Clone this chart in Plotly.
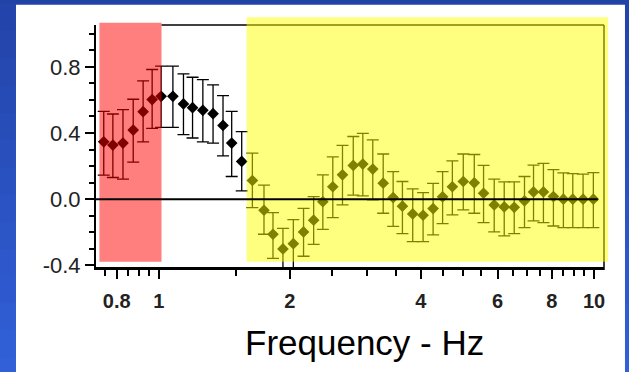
import math
import plotly.graph_objects as go

# ---------------- data ----------------
freq = [0.747, 0.784, 0.827, 0.873, 0.920, 0.965, 1.012, 1.077, 1.139, 1.195,
        1.262, 1.332, 1.404, 1.470, 1.550, 1.640, 1.744, 1.829, 1.928, 2.037,
        2.150, 2.268, 2.381, 2.510, 2.642, 2.797, 2.942, 3.101, 3.277, 3.454,
        3.628, 3.831, 4.047, 4.267, 4.487, 4.725, 5.006, 5.306, 5.573, 5.896,
        6.217, 6.554, 6.921, 7.259, 7.650, 8.065, 8.502, 8.935, 9.436, 9.963]

value = [0.347, 0.327, 0.339, 0.418, 0.529, 0.602, 0.622, 0.622, 0.576, 0.553,
         0.537, 0.517, 0.446, 0.339, 0.228, 0.113, -0.067, -0.212, -0.301, -0.269,
         -0.198, -0.127, -0.015, 0.075, 0.147, 0.204, 0.212, 0.182, 0.097, 0.010,
         -0.042, -0.089, -0.097, -0.057, 0.014, 0.075, 0.107, 0.099, 0.036, -0.035,
         -0.047, -0.049, -0.010, 0.044, 0.044, 0.016, 0.0, 0.0, 0.0, 0.0]

upper = [0.531, 0.515, 0.541, 0.604, 0.715, 0.784, 0.804, 0.804, 0.757, 0.737,
         0.723, 0.691, 0.626, 0.531, 0.408, 0.279, 0.085, -0.081, -0.176, -0.124,
         -0.055, 0.016, 0.147, 0.256, 0.325, 0.379, 0.398, 0.358, 0.273, 0.167,
         0.107, 0.062, 0.040, 0.095, 0.167, 0.232, 0.273, 0.270, 0.204, 0.121,
         0.105, 0.105, 0.137, 0.206, 0.216, 0.179, 0.159, 0.155, 0.152, 0.161]

lower = [0.145, 0.131, 0.121, 0.224, 0.347, 0.428, 0.434, 0.434, 0.390, 0.370,
         0.347, 0.339, 0.262, 0.137, 0.050, -0.051, -0.212, -0.358, -0.430, -0.420,
         -0.345, -0.273, -0.182, -0.111, -0.035, 0.024, 0.020, -0.004, -0.085, -0.164,
         -0.208, -0.257, -0.257, -0.216, -0.148, -0.095, -0.065, -0.085, -0.142, -0.198,
         -0.222, -0.208, -0.172, -0.131, -0.142, -0.162, -0.172, -0.172, -0.172, -0.172]

x_tickvals = [0.8, 1, 2, 4, 6, 8, 10]
x_ticktext = ["0.8", "1", "2", "4", "6", "8", "10"]
x_minorvals = [0.75, 0.85, 0.9, 0.95, 1.5, 2.5, 3, 3.5, 4.5, 5, 5.5,
               6.5, 7, 7.5, 8.5, 9, 9.5]
y_tickvals = [-0.4, 0.0, 0.4, 0.8]
y_ticktext = ["-0.4", "0.0", "0.4", "0.8"]

# highlighted frequency bands (Hz) and their vertical extent
red_band = [0.730, 1.014]
red_band_y = [-0.379, 1.066]
yellow_band = [1.591, 10.77]
yellow_band_y = [-0.379, 1.100]
zero_line_end = 10.2

x_range = [0.717, 10.54]
y_range = [-0.41, 1.053]

# ---------------- helpers: data -> paper coords ----------------
lx0, lx1 = math.log10(x_range[0]), math.log10(x_range[1])


def px(f):
    return (math.log10(f) - lx0) / (lx1 - lx0)


def py(v):
    return (v - y_range[0]) / (y_range[1] - y_range[0])


err_plus = [u - v for u, v in zip(upper, value)]
err_minus = [v - l for v, l in zip(value, lower)]

fig = go.Figure()
fig.add_trace(go.Scatter(
    x=freq, y=value, mode="markers",
    marker=dict(symbol="diamond", size=9, color="black"),
    error_y=dict(type="data", symmetric=False, array=err_plus,
                 arrayminus=err_minus, color="black", thickness=1.3, width=6),
    showlegend=False, hoverinfo="x+y",
))

shapes = []
# background blue gradient
top_c = (0x22, 0x42, 0xa6)
bot_c = (0x32, 0x62, 0xdc)
N = 16
for i in range(N):
    t = i / (N - 1)
    c = tuple(round(top_c[k] + (bot_c[k] - top_c[k]) * t) for k in range(3))
    y_top = 1.2 - (i / N) * 1.8
    y_bot = 1.2 - ((i + 1) / N) * 1.8
    shapes.append(dict(type="rect", xref="paper", yref="paper",
                       x0=-0.3, x1=1.1, y0=y_bot - 0.01, y1=y_top,
                       fillcolor="rgb(%d,%d,%d)" % c, line=dict(width=0),
                       layer="below"))
# white panel
shapes.append(dict(type="rect", xref="paper", yref="paper",
                   x0=-0.1575, x1=1.0413, y0=-0.6, y1=1.084,
                   fillcolor="white", line=dict(width=0), layer="below"))
# frame lines (top & right)
shapes.append(dict(type="line", xref="paper", yref="paper",
                   x0=px(red_band[1]), x1=1.0, y0=1.0, y1=1.0,
                   line=dict(color="black", width=1.5), layer="above"))
shapes.append(dict(type="line", xref="paper", yref="paper",
                   x0=1.0, x1=1.0, y0=-0.012, y1=1.0,
                   line=dict(color="black", width=1.5), layer="above"))
# translucent bands
shapes.append(dict(type="rect", xref="paper", yref="paper",
                   x0=px(red_band[0]), x1=px(red_band[1]),
                   y0=py(red_band_y[0]), y1=py(red_band_y[1]),
                   fillcolor="red", opacity=0.5, line=dict(width=0),
                   layer="above"))
shapes.append(dict(type="rect", xref="paper", yref="paper",
                   x0=px(yellow_band[0]), x1=px(yellow_band[1]),
                   y0=py(yellow_band_y[0]), y1=py(yellow_band_y[1]),
                   fillcolor="yellow", opacity=0.5, line=dict(width=0),
                   layer="above"))
# zero line on top
shapes.append(dict(type="line", xref="paper", yref="paper",
                   x0=-0.004, x1=px(zero_line_end), y0=py(0), y1=py(0),
                   line=dict(color="black", width=2), layer="above"))

fig.update_layout(
    width=629, height=372,
    margin=dict(l=96, r=25, t=25, b=105),
    paper_bgcolor="#2a4cb8",
    plot_bgcolor="rgba(0,0,0,0)",
    shapes=shapes,
    font=dict(family="Liberation Sans, Arial, sans-serif", color="#222"),
    xaxis=dict(
        type="log", range=[lx0, lx1],
        tickmode="array", tickvals=x_tickvals, ticktext=x_ticktext,
        ticks="outside", ticklen=9, tickwidth=2, tickcolor="black",
        showline=True, linecolor="black", linewidth=3,
        showgrid=False, zeroline=False,
        tickfont=dict(size=20, color="#222",
                      family="Liberation Sans, Arial, sans-serif", weight="bold"),
        ticklabelstandoff=5,
        minor=dict(tickmode="array", tickvals=x_minorvals, ticks="outside",
                   ticklen=6, tickwidth=2, tickcolor="black", showgrid=False),
    ),
    yaxis=dict(
        range=y_range,
        tickmode="array", tickvals=y_tickvals, ticktext=y_ticktext,
        ticks="outside", ticklen=9, tickwidth=2, tickcolor="black",
        showline=True, linecolor="black", linewidth=2,
        showgrid=False, zeroline=False,
        tickfont=dict(size=22, color="#222",
                      family="Liberation Sans, Arial, sans-serif"),
        minor=dict(tickmode="linear", tick0=0, dtick=0.1, ticks="outside",
                   ticklen=5, tickwidth=2, tickcolor="black", showgrid=False),
    ),
    annotations=[dict(
        text="Frequency - Hz", xref="paper", yref="paper",
        x=0.5295, y=-0.314, xanchor="center", yanchor="middle",
        showarrow=False,
        font=dict(size=35, color="black",
                  family="Liberation Sans, Arial, sans-serif"),
    )],
)

fig.write_html("out.html",
               config={"displayModeBar": False},
               post_script="document.body.style.margin='0';"
                           "document.body.style.overflow='hidden';")
